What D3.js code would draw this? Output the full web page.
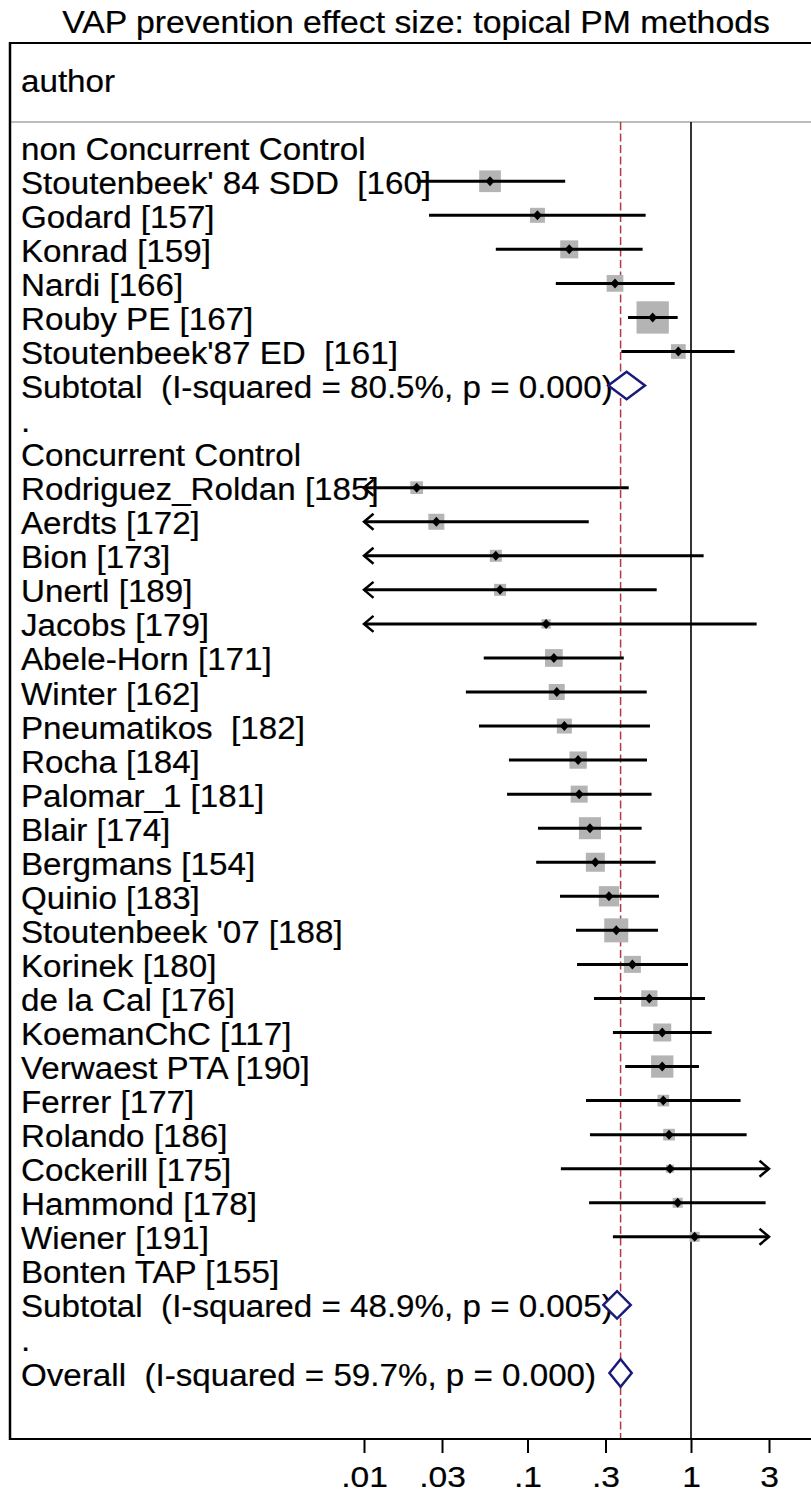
<!DOCTYPE html>
<html>
<head>
<meta charset="utf-8">
<script src="https://cdn.jsdelivr.net/npm/d3@7"></script>
<style>
  html, body { margin: 0; padding: 0; background: #fff; }
  svg { display: block; }
  text { font-family: "Liberation Sans", Arial, Helvetica, sans-serif; fill: #000; white-space: pre; }
</style>
</head>
<body>
<svg id="chart" width="811" height="1493"></svg>
<script>
// ---- data -------------------------------------------------------------
const chartTitle = "VAP prevention effect size: topical PM methods";
const headerLabel = "author";

// one entry per row, top to bottom; type: head | study | sub | blank
const rowLabels = [
  "non Concurrent Control",
  "Stoutenbeek' 84 SDD  [160]",
  "Godard [157]",
  "Konrad [159]",
  "Nardi [166]",
  "Rouby PE [167]",
  "Stoutenbeek'87 ED  [161]",
  "Subtotal  (I-squared = 80.5%, p = 0.000)",
  ".",
  "Concurrent Control",
  "Rodriguez_Roldan [185]",
  "Aerdts [172]",
  "Bion [173]",
  "Unertl [189]",
  "Jacobs [179]",
  "Abele-Horn [171]",
  "Winter [162]",
  "Pneumatikos  [182]",
  "Rocha [184]",
  "Palomar_1 [181]",
  "Blair [174]",
  "Bergmans [154]",
  "Quinio [183]",
  "Stoutenbeek '07 [188]",
  "Korinek [180]",
  "de la Cal [176]",
  "KoemanChC [117]",
  "Verwaest PTA [190]",
  "Ferrer [177]",
  "Rolando [186]",
  "Cockerill [175]",
  "Hammond [178]",
  "Wiener [191]",
  "Bonten TAP [155]",
  "Subtotal  (I-squared = 48.9%, p = 0.005)",
  ".",
  "Overall  (I-squared = 59.7%, p = 0.000)"
];
const rowTypes = [
  "head","study","study","study","study","study","study","sub","blank",
  "head","study","study","study","study","study","study","study","study","study",
  "study","study","study","study","study","study","study","study","study","study",
  "study","study","study","study","study","sub","blank","sub"
];
// odds ratio and 95% CI per row (null where nothing is drawn)
const estimates = [
  null, 0.059, 0.115, 0.180, 0.343, 0.583, 0.837, 0.404, null,
  null, 0.021, 0.0277, 0.064, 0.068, 0.130, 0.145, 0.151, 0.168, 0.204,
  0.207, 0.241, 0.260, 0.315, 0.349, 0.438, 0.556, 0.667, 0.667, 0.677,
  0.734, 0.744, 0.829, 1.053, null, 0.353, null, 0.371
];
const lowerCI = [
  null, 0.021, 0.025, 0.064, 0.149, 0.412, 0.375, 0.312, null,
  null, 0.001, 0.002, 0.003, 0.004, 0.006, 0.054, 0.042, 0.0505, 0.077,
  0.075, 0.116, 0.113, 0.158, 0.198, 0.201, 0.255, 0.333, 0.396, 0.228,
  0.241, 0.160, 0.238, 0.333, null, 0.291, null, 0.317
];
const upperCI = [
  null, 0.170, 0.528, 0.506, 0.795, 0.829, 1.85, 0.523, null,
  null, 0.416, 0.237, 1.195, 0.617, 2.52, 0.388, 0.536, 0.561, 0.538,
  0.574, 0.499, 0.608, 0.637, 0.628, 0.959, 1.218, 1.338, 1.119, 2.01,
  2.19, 4.5, 2.86, 5.0, null, 0.428, null, 0.434
];
// study weights (%)
const weights = [
  null, 5.55, 2.65, 3.82, 3.29, 12.30, 2.55, null, null,
  null, 1.90, 3.02, 1.70, 1.70, 1.02, 3.69, 3.02, 2.65, 3.53,
  3.41, 5.71, 4.26, 4.86, 6.79, 3.41, 3.13, 3.82, 5.86, 1.61,
  1.61, 0.75, 1.18, 1.18, null, null, null, null
];
const overallEstimate = 0.371;
const tickValues = [0.01, 0.03, 0.1, 0.3, 1, 3];
const tickLabels = [".01", ".03", ".1", ".3", "1", "3"];

// ---- layout -----------------------------------------------------------
const svg = d3.select("#chart");
const W = 811, H = 1493;
const frameLeft = 10, frameTop = 43, headerLine = 122, axisY = 1439;
const textX = 21;

const x = d3.scaleLog().domain([tickValues[0], tickValues[tickValues.length - 1]]).range([364, 769]);
const y = d3.scaleLinear().domain([0, rowLabels.length - 1]).range([147.2, 1373]);
const side = d3.scaleSqrt().domain([0, d3.max(weights)]).range([0, 32.3]);
const [xMin, xMax] = x.domain();

// labels are set slightly wide: a horizontal stretch on top of the font size
function stretchedText(g, tx, ty, str, size, sx, anchor) {
  return g.append("text")
    .attr("transform", `translate(${tx},${ty}) scale(${sx},1)`)
    .attr("text-anchor", anchor || "start")
    .style("font-size", size + "px")
    .attr("stroke", "#000").attr("stroke-width", 0.2)
    .text(str);
}

// title
stretchedText(svg, 416, 33, chartTitle, 31, 1.09, "middle");

// frame: top border, header separator, left border
svg.append("line").attr("x1", frameLeft).attr("x2", W).attr("y1", frameTop).attr("y2", frameTop)
  .attr("stroke", "#000").attr("stroke-width", 2);
svg.append("line").attr("x1", frameLeft).attr("x2", W).attr("y1", headerLine).attr("y2", headerLine)
  .attr("stroke", "#bdbdbd").attr("stroke-width", 2);
svg.append("line").attr("x1", frameLeft).attr("x2", frameLeft).attr("y1", frameTop - 1).attr("y2", axisY + 1)
  .attr("stroke", "#000").attr("stroke-width", 2.5);

// header text
stretchedText(svg, textX, 92, headerLabel, 31, 1.07);

// reference lines: no effect (OR = 1) and the overall estimate
svg.append("line").attr("x1", x(1)).attr("x2", x(1)).attr("y1", headerLine).attr("y2", axisY)
  .attr("stroke", "#000").attr("stroke-width", 1.6);
svg.append("line").attr("x1", x(overallEstimate)).attr("x2", x(overallEstimate))
  .attr("y1", headerLine).attr("y2", axisY)
  .attr("stroke", "#b03a48").attr("stroke-width", 1.5).attr("stroke-dasharray", "8,3.5");

// rows
const rows = rowLabels.map((label, i) => ({
  i, label, type: rowTypes[i], est: estimates[i], lo: lowerCI[i], hi: upperCI[i], w: weights[i]
}));

const studies = rows.filter(d => d.type === "study" && d.est != null);

const gStudy = svg.append("g");
// weight squares
gStudy.selectAll("rect.wt").data(studies).join("rect")
  .attr("class", "wt")
  .attr("x", d => x(d.est) - side(d.w) / 2)
  .attr("y", d => y(d.i) - side(d.w) / 2)
  .attr("width", d => side(d.w))
  .attr("height", d => side(d.w))
  .attr("fill", "#b4b4b4");

// confidence intervals, clipped to the axis range
gStudy.selectAll("line.ci").data(studies).join("line")
  .attr("class", "ci")
  .attr("x1", d => x(Math.max(d.lo, xMin)))
  .attr("x2", d => x(Math.min(d.hi, xMax)))
  .attr("y1", d => y(d.i)).attr("y2", d => y(d.i))
  .attr("stroke", "#000").attr("stroke-width", 3);

// arrow heads where the interval runs past the axis
const arrowLen = 9.5, arrowHalf = 8;
gStudy.selectAll("path.arrL").data(studies.filter(d => d.lo < xMin)).join("path")
  .attr("class", "arrL")
  .attr("d", d => {
    const tx = x(xMin), ty = y(d.i);
    return `M${tx + arrowLen},${ty - arrowHalf} L${tx},${ty} L${tx + arrowLen},${ty + arrowHalf}`;
  })
  .attr("fill", "none").attr("stroke", "#000").attr("stroke-width", 2.5);
gStudy.selectAll("path.arrR").data(studies.filter(d => d.hi > xMax)).join("path")
  .attr("class", "arrR")
  .attr("d", d => {
    const tx = x(xMax), ty = y(d.i);
    return `M${tx - arrowLen},${ty - arrowHalf} L${tx},${ty} L${tx - arrowLen},${ty + arrowHalf}`;
  })
  .attr("fill", "none").attr("stroke", "#000").attr("stroke-width", 2.5);

// point estimates
gStudy.selectAll("path.pt").data(studies).join("path")
  .attr("class", "pt")
  .attr("d", d => {
    const cx = x(d.est), cy = y(d.i);
    return `M${cx},${cy - 5} L${cx + 4.5},${cy} L${cx},${cy + 5} L${cx - 4.5},${cy} Z`;
  })
  .attr("fill", "#000");

// row labels (drawn over the marks)
const gText = svg.append("g");
rows.forEach(d => stretchedText(gText, textX, y(d.i) + 12.5, d.label, 31, 1.07));

// pooled estimates
const pooled = rows.filter(d => d.type === "sub");
svg.append("g").selectAll("path.pool").data(pooled).join("path")
  .attr("class", "pool")
  .attr("d", d => {
    const cy = y(d.i), h = 13.7;
    return `M${x(d.lo)},${cy} L${x(d.est)},${cy - h} L${x(d.hi)},${cy} L${x(d.est)},${cy + h} Z`;
  })
  .attr("fill", "#fff").attr("stroke", "#1a1a7a").attr("stroke-width", 2.5);

// x axis
svg.append("line").attr("x1", frameLeft - 1).attr("x2", W).attr("y1", axisY).attr("y2", axisY)
  .attr("stroke", "#000").attr("stroke-width", 2);
const axis = d3.axisBottom(x)
  .tickValues(tickValues)
  .tickFormat((v, i) => tickLabels[i])
  .tickSize(14)
  .tickPadding(0);
const gAxis = svg.append("g").attr("transform", `translate(0,${axisY})`).call(axis);
gAxis.select(".domain").remove();
gAxis.selectAll(".tick line").attr("stroke", "#000").attr("stroke-width", 2);
gAxis.selectAll(".tick text").remove();
gAxis.selectAll(".tick").each(function (v, i) {
  d3.select(this).append("text")
    .attr("transform", `translate(0,48) scale(1.12,1)`)
    .attr("text-anchor", "middle")
    .style("font-size", "30px")
    .attr("stroke", "#000").attr("stroke-width", 0.2)
    .text(tickLabels[i]);
});
</script>
</body>
</html>
